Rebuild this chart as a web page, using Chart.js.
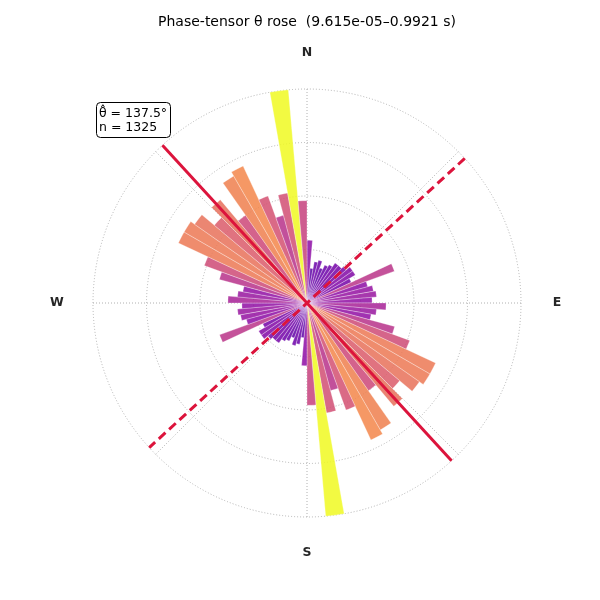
<!DOCTYPE html>
<html>
<head>
<meta charset="utf-8">
<script src="https://cdn.jsdelivr.net/npm/chart.js@4.4.0/dist/chart.umd.min.js"></script>
<style>
  html, body { margin: 0; padding: 0; background: #fff; }
</style>
</head>
<body>
<canvas id="rose" width="600" height="600"></canvas>
<script>
// theta histogram, 5 deg bins from 0 to 180 (clockwise from N).
// the rose is symmetric so the 180-360 half repeats the same counts
const binWidth = 5;
const halfCounts = [27, 15, 18, 19, 16, 18, 19, 21, 21, 22, 24, 24, 21, 40, 27, 29, 30, 28,
                    34, 30, 28, 39, 47, 61, 61, 59, 52, 58, 46, 63, 65, 49, 39, 48, 92, 44];
const rTicks = [23, 46, 69, 92];
const thetaHat = 137.5;
const nSamples = 1325;
const compass = ['N', 'E', 'S', 'W'];
const titleText = 'Phase-tensor θ rose  (9.615e-05–0.9921 s)';

const counts = halfCounts.concat(halfCounts);
const binLabels = counts.map((_, i) => (i * binWidth) + '°');
const maxCount = Math.max(...counts);

// matplotlib plasma, sampled every 0.1
const plasma = ['#0d0887', '#41049d', '#6a00a8', '#8f0da4', '#b12a90', '#cc4778',
                '#e16462', '#f2844b', '#fca636', '#fcce25', '#f0f921'];

function hexToRgb(h) {
    return [parseInt(h.slice(1, 3), 16), parseInt(h.slice(3, 5), 16), parseInt(h.slice(5, 7), 16)];
}

function plasmaColor(t, alpha) {
    t = Math.max(0, Math.min(1, t));
    const p = t * (plasma.length - 1);
    const i = Math.min(Math.floor(p), plasma.length - 2);
    const f = p - i;
    const a = hexToRgb(plasma[i]);
    const b = hexToRgb(plasma[i + 1]);
    const c = a.map((v, k) => Math.round(v + (b[k] - v) * f));
    return `rgba(${c[0]}, ${c[1]}, ${c[2]}, ${alpha})`;
}

function polarXY(scale, bearingDeg, r) {
    const a = bearingDeg * Math.PI / 180;
    return [scale.xCenter + r * Math.sin(a), scale.yCenter - r * Math.cos(a)];
}

const rosePlugin = {
    id: 'rose',
    beforeDatasetsDraw(chart) {
        const scale = chart.scales.r;
        const ctx = chart.ctx;
        ctx.save();
        ctx.strokeStyle = '#b0b0b0';
        ctx.lineWidth = 1;
        ctx.setLineDash([1, 2]);
        for (let b = 0; b < 360; b += 45) {
            const [x, y] = polarXY(scale, b, scale.drawingArea);
            ctx.beginPath();
            ctx.moveTo(scale.xCenter, scale.yCenter);
            ctx.lineTo(x, y);
            ctx.stroke();
        }
        ctx.restore();
    },
    afterDatasetsDraw(chart) {
        const scale = chart.scales.r;
        const ctx = chart.ctx;
        const R = scale.drawingArea;
        ctx.save();

        // mean direction (solid) and its normal (dashed)
        ctx.strokeStyle = '#dc143c';
        ctx.lineWidth = 3;
        let p1 = polarXY(scale, thetaHat, R);
        let p2 = polarXY(scale, thetaHat + 180, R);
        ctx.beginPath();
        ctx.moveTo(p1[0], p1[1]);
        ctx.lineTo(p2[0], p2[1]);
        ctx.stroke();

        ctx.setLineDash([9, 5]);
        p1 = polarXY(scale, thetaHat - 90, R);
        p2 = polarXY(scale, thetaHat + 90, R);
        ctx.beginPath();
        ctx.moveTo(p1[0], p1[1]);
        ctx.lineTo(p2[0], p2[1]);
        ctx.stroke();
        ctx.setLineDash([]);

        // compass labels
        ctx.fillStyle = '#262626';
        ctx.font = 'bold 12.5px "DejaVu Sans"';
        ctx.textAlign = 'center';
        ctx.textBaseline = 'middle';
        compass.forEach((lab, i) => {
            const [x, y] = polarXY(scale, i * 90, R + 36);
            ctx.fillText(lab, x, y);
        });

        // stats box
        const bx = 96, by = 102, bw = 74, bh = 35;
        ctx.beginPath();
        ctx.roundRect(bx + 0.5, by + 0.5, bw, bh, 4);
        ctx.fillStyle = '#fff';
        ctx.fill();
        ctx.strokeStyle = '#000';
        ctx.lineWidth = 1;
        ctx.stroke();
        ctx.fillStyle = '#000';
        ctx.font = '12.5px "DejaVu Sans"';
        ctx.textAlign = 'left';
        const tx = bx + 3, ty = by + 12;
        const thW = ctx.measureText('θ').width;
        ctx.fillText('θ', tx, ty);
        ctx.textAlign = 'center';
        ctx.fillText('ˆ', tx + thW / 2, ty - 2.5);
        ctx.textAlign = 'left';
        ctx.fillText(' = ' + thetaHat.toFixed(1) + '°', tx + thW, ty);
        ctx.fillText('n = ' + nSamples, tx, by + 26);
        ctx.restore();
    }
};

const ctx = document.getElementById('rose').getContext('2d');
const roseChart = new Chart(ctx, {
    type: 'polarArea',
    data: {
        labels: binLabels,
        datasets: [{
            data: counts,
            backgroundColor: counts.map(v => plasmaColor(v / maxCount, 0.85)),
            borderColor: 'rgba(255, 255, 255, 0.6)',
            borderWidth: 0.5
        }]
    },
    options: {
        responsive: false,
        animation: false,
        layout: {
            padding: { left: 93, right: 79, top: 0, bottom: 83 }
        },
        plugins: {
            legend: { display: false },
            tooltip: { enabled: false },
            title: {
                display: true,
                text: titleText,
                color: '#000',
                font: { family: 'DejaVu Sans', size: 14, weight: 'normal' },
                padding: { top: 13.6, bottom: 58.6 }
            }
        },
        scales: {
            r: {
                min: 0,
                max: rTicks[rTicks.length - 1],
                startAngle: 0,
                ticks: { display: false, stepSize: rTicks[1] - rTicks[0] },
                grid: { color: '#b0b0b0', lineWidth: 1 },
                border: { dash: [1, 2] },
                angleLines: { display: false },
                pointLabels: { display: false }
            }
        }
    },
    plugins: [rosePlugin]
});
</script>
</body>
</html>
